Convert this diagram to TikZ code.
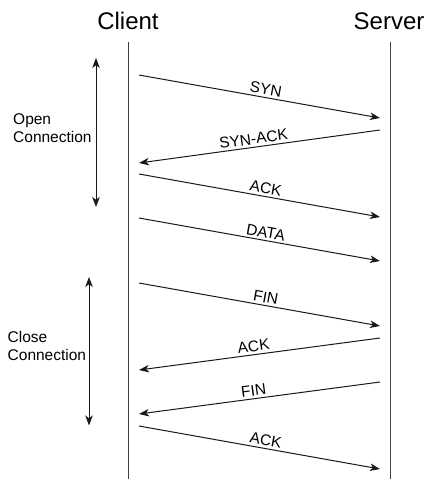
\documentclass[tikz,border=0pt]{standalone}
\usepackage{fontspec}
\setmainfont{Liberation Sans}
\usetikzlibrary{arrows.meta}
\begin{document}
\begin{tikzpicture}[x=1pt,y=-1pt,
  lifeline/.style={draw=black!75, line width=0.9pt},
  tip/.tip={Stealth[length=10pt,width=7.5pt,inset=2.8pt]},
  msg/.style={draw=black!90, line width=1pt, -tip},
  msglabel/.style={font=\fontsize{15.5}{17}\selectfont, sloped, above, pos=0.52, inner sep=2.3pt},
  title/.style={font=\fontsize{24}{28}\selectfont},
  phase/.style={draw=black!90, line width=1pt, tip-tip},
  phaselabel/.style={font=\fontsize{15.5}{18}\selectfont, align=left, anchor=north west, inner sep=0pt}]
\useasboundingbox (0,0) rectangle (428,479);

% participants
\node[title] (client) at (128,21) {Client};
\node[title] (server) at (389,21) {Server};
\coordinate (cTop) at (128,42);
\coordinate (cBot) at (128,479);
\coordinate (sTop) at (390,42);
\coordinate (sBot) at (390,479);
\draw[lifeline] (cTop) -- (cBot);
\draw[lifeline] (sTop) -- (sBot);

% message end points
\coordinate (synA) at (139,75);   \coordinate (synB) at (380,118);
\coordinate (saA)  at (380,130);  \coordinate (saB)  at (139,163);
\coordinate (ackA) at (139,174);  \coordinate (ackB) at (380,217);
\coordinate (datA) at (139,218);  \coordinate (datB) at (380,261);
\coordinate (finA) at (139,283);  \coordinate (finB) at (380,326);
\coordinate (ak2A) at (380,338);  \coordinate (ak2B) at (139,370);
\coordinate (fn2A) at (380,382);  \coordinate (fn2B) at (139,414);
\coordinate (ak3A) at (139,426);  \coordinate (ak3B) at (380,469);

% messages
\draw[msg] (synA) -- node[msglabel] {SYN} (synB);
\draw[msg] (saA) -- node[msglabel] {SYN-ACK} (saB);
\draw[msg] (ackA) -- node[msglabel] {ACK} (ackB);
\draw[msg] (datA) -- node[msglabel] {DATA} (datB);
\draw[msg] (finA) -- node[msglabel] {FIN} (finB);
\draw[msg] (ak2A) -- node[msglabel] {ACK} (ak2B);
\draw[msg] (fn2A) -- node[msglabel] {FIN} (fn2B);
\draw[msg] (ak3A) -- node[msglabel] {ACK} (ak3B);

% connection phases
\coordinate (openTop) at (96,58);
\coordinate (openBot) at (96,207);
\draw[phase] (openTop) -- (openBot);
\node[phaselabel] (openLbl) at (13,113.5) {Open\\Connection};

\coordinate (closeTop) at (89,277);
\coordinate (closeBot) at (89,425.5);
\draw[phase] (closeTop) -- (closeBot);
\node[phaselabel] (closeLbl) at (7.5,331.5) {Close\\Connection};
\end{tikzpicture}
\end{document}
